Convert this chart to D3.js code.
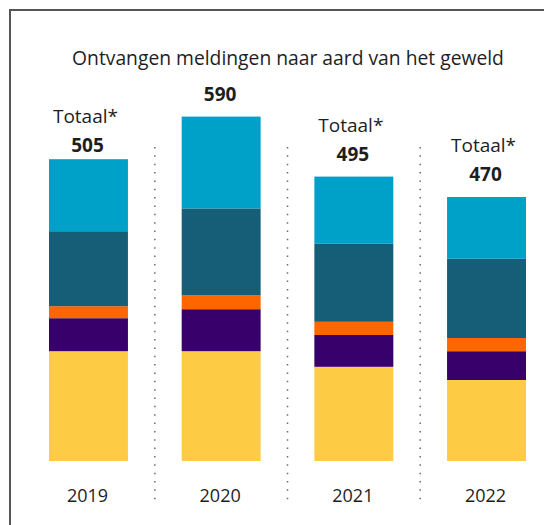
<!DOCTYPE html>
<html>
<head>
<meta charset="utf-8">
<script src="https://cdn.jsdelivr.net/npm/d3@7"></script>
<style>
  html, body { margin: 0; padding: 0; background: #fff; }
  svg { display: block; }
  text { font-family: "Open Sans", "Noto Sans", sans-serif; fill: #1e1e1e; }
</style>
</head>
<body>
<svg id="chart" width="544" height="525"></svg>
<script>
// ---- data ----
const years = ["2019", "2020", "2021", "2022"];
const totals = [505, 590, 495, 470];
const totalPrefix = ["Totaal*", "", "Totaal*", "Totaal*"];
const seriesNames = ["s1", "s2", "s3", "s4", "s5"]; // bottom → top
const s1 = [183, 183, 157, 135]; // yellow
const s2 = [55, 70, 53, 48];     // purple
const s3 = [20, 23, 22, 22];     // orange
const s4 = [125, 145, 130, 132]; // dark teal
const s5 = [120, 153, 112, 103]; // light blue
const colors = ["#FECB45", "#38006B", "#FF6600", "#165E78", "#00A1C8"];
const title = "Ontvangen meldingen naar aard van het geweld";

// ---- build table ----
const seriesVals = [s1, s2, s3, s4, s5];
const table = years.map((y, i) => {
  const row = { year: y };
  seriesNames.forEach((k, j) => row[k] = seriesVals[j][i]);
  return row;
});

const svg = d3.select("#chart");

// frame (top and left lines)
svg.append("line").attr("x1", 10).attr("x2", 544).attr("y1", 10).attr("y2", 10)
  .attr("stroke", "#555").attr("stroke-width", 2);
svg.append("line").attr("x1", 10).attr("x2", 10).attr("y1", 9).attr("y2", 525)
  .attr("stroke", "#555").attr("stroke-width", 2);

const x = d3.scaleBand().domain(years).range([49, 526]).paddingInner(0.405).paddingOuter(0);
const y = d3.scaleLinear().domain([0, 600]).range([461, 101]);

// title
svg.append("text").attr("x", 288).attr("y", 65).attr("text-anchor", "middle")
  .style("font-size", "19.3px").text(title);

// dotted separators
const seps = years.slice(1).map((yr, i) => (x(years[i]) + x.bandwidth() + x(yr)) / 2);
svg.selectAll("line.sep").data(seps).join("line").attr("class", "sep")
  .attr("x1", d => d).attr("x2", d => d).attr("y1", 147).attr("y2", 500)
  .attr("stroke", "#6a6a6a").attr("stroke-width", 1.5)
  .attr("stroke-dasharray", "1.5 6.85");

// stacked bars
const stacked = d3.stack().keys(seriesNames)(table);
svg.append("g").selectAll("g").data(stacked).join("g")
  .attr("fill", (d, i) => colors[i])
  .selectAll("rect").data(d => d).join("rect")
  .attr("x", d => x(d.data.year))
  .attr("width", x.bandwidth())
  .attr("y", d => y(d[1]))
  .attr("height", d => y(d[0]) - y(d[1]));

// total labels
const topOf = i => y(d3.sum(seriesVals, s => s[i]));
years.forEach((yr, i) => {
  const cx = x(yr) + x.bandwidth() / 2 - 1;
  const gap = i === 0 ? 7 : 16;
  const by = topOf(i) - gap;
  svg.append("text").attr("x", cx).attr("y", by).attr("text-anchor", "middle")
    .style("font-size", "19px").style("font-weight", "700").text(totals[i]);
  if (totalPrefix[i]) {
    svg.append("text").attr("x", cx - 2).attr("y", by - 29).attr("text-anchor", "middle")
      .style("font-size", "19px").text(totalPrefix[i]);
  }
});

// x axis labels
const xAxis = d3.axisBottom(x).tickSize(0).tickPadding(0);
const ax = svg.append("g").attr("transform", "translate(-1,488)").call(xAxis);
ax.select(".domain").remove();
ax.selectAll("text").style("font-size", "18px").attr("fill", "#1e1e1e")
  .attr("dy", "0.78em").style("font-family", "'Open Sans', sans-serif");
</script>
</body>
</html>
